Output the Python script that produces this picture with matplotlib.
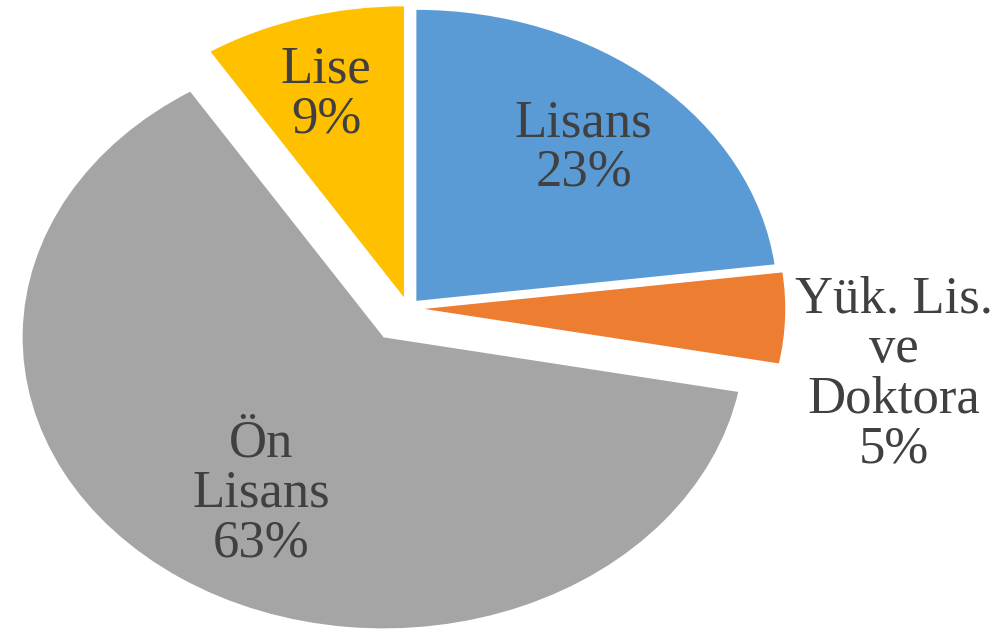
import numpy as np
import matplotlib.pyplot as plt

categories = ["Lisans", "Yük. Lis.\nve\nDoktora", "Ön\nLisans", "Lise"]
shares = [23, 5, 63, 9]
colors = ["#5B9BD5", "#ED7D31", "#A5A5A5", "#FFC000"]
explode = [0.035, 0.045, 0.12, 0.04]
# where each label sits: distance from the slice tip and angle nudge (deg)
label_r = [0.70, 1.32, 0.635, 0.73]
label_dtheta = [0, -8, 2, 1]

plt.rcParams["font.family"] = ["Liberation Serif", "DejaVu Serif"]

fig = plt.figure(figsize=(10.08, 6.35), dpi=100)
ax = fig.add_axes([0, 0, 1, 1])

wedges, _ = ax.pie(shares, colors=colors, explode=explode, startangle=90,
                   counterclock=False, radius=1.0,
                   wedgeprops={"linewidth": 0})

# stretch the pie horizontally like the original
ax.set_aspect("auto")
ax.set_xlim(-408 / 361, (1008 - 408) / 361)
ax.set_ylim(-(635 - 308.5) / 291, 308.5 / 291)
ax.axis("off")

for w, name, pct, r, dt in zip(wedges, categories, shares, label_r, label_dtheta):
    mid = np.deg2rad((w.theta1 + w.theta2) / 2 + dt)
    cx, cy = w.center
    ax.text(cx + r * np.cos(mid), cy + r * np.sin(mid), f"{name}\n{pct}%",
            ha="center", va="center", multialignment="center",
            fontsize=38, color="#404040", linespacing=1.05)

fig.savefig("out.png", dpi=100)
